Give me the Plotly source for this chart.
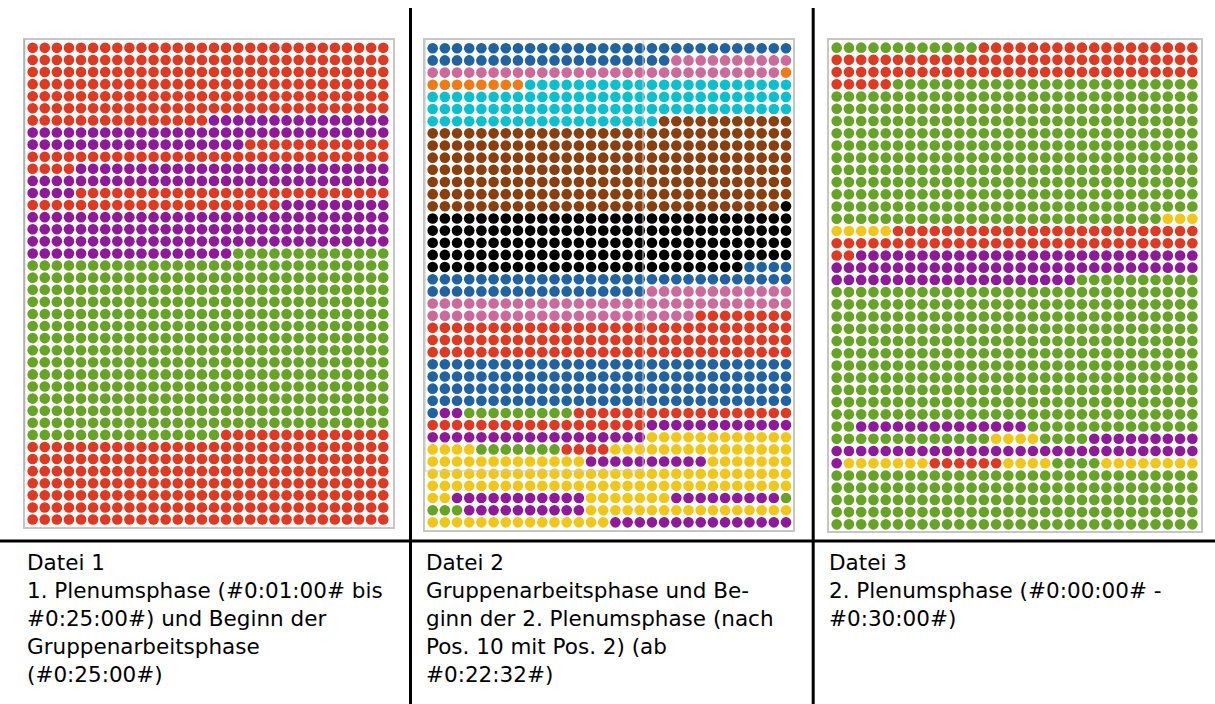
import plotly.graph_objects as go

W, H = 1215, 704

# colour codes used in the run-length rows
COLORS = {
    "R": "#de3a23",  # red
    "P": "#8f1a99",  # purple
    "G": "#66a326",  # green
    "B": "#2162a3",  # blue
    "K": "#cc6b9b",  # pink
    "O": "#ee7b18",  # orange
    "C": "#0cbfcf",  # cyan
    "N": "#8a3f11",  # brown
    "X": "#000000",  # black
    "Y": "#f1c61a",  # yellow
}

# each row: runs of (colour code, count); 30 dots per row, 40 rows per panel
panel1_rows = (
    [[("R", 30)]] * 6
    + [[("R", 15), ("P", 15)]]
    + [[("P", 30)]]
    + [[("P", 18), ("R", 12)]]
    + [[("R", 30)]]
    + [[("R", 4), ("P", 26)]]
    + [[("P", 30)]]
    + [[("P", 4), ("R", 26)]]
    + [[("R", 21), ("P", 9)]]
    + [[("P", 30)]] * 3
    + [[("P", 17), ("G", 13)]]
    + [[("G", 30)]] * 14
    + [[("G", 16), ("R", 14)]]
    + [[("R", 30)]] * 7
)

panel2_rows = (
    [[("B", 30)]]
    + [[("B", 20), ("K", 10)]]
    + [[("K", 29), ("O", 1)]]
    + [[("O", 8), ("C", 22)]]
    + [[("C", 30)]] * 2
    + [[("C", 19), ("N", 11)]]
    + [[("N", 30)]] * 6
    + [[("N", 29), ("X", 1)]]
    + [[("X", 30)]] * 4
    + [[("X", 26), ("B", 4)]]
    + [[("B", 30)]]
    + [[("B", 18), ("K", 12)]]
    + [[("K", 30)]]
    + [[("K", 22), ("R", 8)]]
    + [[("R", 30)]] * 3
    + [[("B", 30)]] * 4
    + [[("B", 1), ("P", 2), ("G", 9), ("R", 18)]]
    + [[("R", 18), ("P", 12)]]
    + [[("P", 18), ("Y", 12)]]
    + [[("Y", 4), ("G", 7), ("R", 4), ("Y", 15)]]
    + [[("Y", 13), ("P", 10), ("Y", 7)]]
    + [[("Y", 30)]] * 2
    + [[("Y", 2), ("P", 11), ("Y", 7), ("P", 9), ("G", 1)]]
    + [[("G", 3), ("P", 10), ("Y", 17)]]
    + [[("Y", 15), ("P", 15)]]
)

panel3_rows = (
    [[("G", 12), ("R", 18)]]
    + [[("R", 30)]] * 2
    + [[("R", 5), ("G", 25)]]
    + [[("G", 30)]] * 10
    + [[("G", 27), ("Y", 3)]]
    + [[("Y", 5), ("R", 25)]]
    + [[("R", 30)]]
    + [[("R", 2), ("P", 28)]]
    + [[("P", 30)]]
    + [[("P", 20), ("G", 10)]]
    + [[("G", 30)]] * 11
    + [[("G", 2), ("P", 14), ("G", 14)]]
    + [[("G", 13), ("Y", 4), ("G", 4), ("P", 9)]]
    + [[("P", 30)]]
    + [[("P", 1), ("Y", 7), ("R", 6), ("Y", 4), ("G", 4), ("Y", 8)]]
    + [[("G", 30)]] * 5
)

captions = [
    ["Datei 1", "1. Plenumsphase (#0:01:00# bis", "#0:25:00#) und Beginn der",
     "Gruppenarbeitsphase", "(#0:25:00#)"],
    ["Datei 2", "Gruppenarbeitsphase und Be-", "ginn der 2. Plenumsphase (nach",
     "Pos. 10 mit Pos. 2) (ab", "#0:22:32#)"],
    ["Datei 3", "2. Plenumsphase (#0:00:00# -", "#0:30:00#)"],
]

# ---- layout geometry (pixels) ----
frames = [  # x0, x1, y0, y1 of each picture frame
    (24.7, 392.7, 39.5, 526.8),
    (425.0, 793.3, 40.0, 530.0),
    (828.7, 1200.7, 39.7, 530.7),
]
xranges = [[-0.66, 29.78], [-0.63, 29.6], [-0.65, 29.68]]
yranges = [[39.6, -0.69], [39.63, -0.68], [39.52, -0.65]]
text_x = [26, 424.5, 828]


def px(x):
    return x / W


def py(y):
    return 1 - y / H


fig = go.Figure()

for i, rows in enumerate([panel1_rows, panel2_rows, panel3_rows]):
    pts = {}
    for r, runs in enumerate(rows):
        c = 0
        for code, n in runs:
            for _ in range(n):
                pts.setdefault(code, ([], []))
                pts[code][0].append(c)
                pts[code][1].append(r)
                c += 1
    sfx = "" if i == 0 else str(i + 1)
    for code, (xs, ys) in pts.items():
        fig.add_trace(go.Scatter(
            x=xs, y=ys, mode="markers",
            marker=dict(color=COLORS[code], size=10.6, line=dict(width=0)),
            xaxis="x" + sfx, yaxis="y" + sfx, showlegend=False, hoverinfo="skip",
        ))
    x0, x1, y0, y1 = frames[i]
    ax = dict(domain=[px(x0), px(x1)], range=xranges[i], showgrid=False,
              zeroline=False, showticklabels=False, ticks="", showline=True,
              mirror=True, linecolor="#c6c6c6", linewidth=1.5, fixedrange=True)
    ay = dict(domain=[py(y1), py(y0)], range=yranges[i], showgrid=False,
              zeroline=False, showticklabels=False, ticks="", showline=True,
              mirror=True, linecolor="#c6c6c6", linewidth=1.5, fixedrange=True)
    if i > 0:
        ax["anchor"] = "y" + sfx
        ay["anchor"] = "x" + sfx
    fig.layout["xaxis" + sfx] = ax
    fig.layout["yaxis" + sfx] = ay

shapes = []
# table rules
for xv in (410.5, 813.2):
    shapes.append(dict(type="line", xref="paper", yref="paper",
                       x0=px(xv), x1=px(xv), y0=py(8), y1=py(H + 2),
                       line=dict(color="black", width=3)))
shapes.append(dict(type="line", xref="paper", yref="paper",
                   x0=0, x1=1, y0=py(541), y1=py(541),
                   line=dict(color="black", width=3)))
# faint overlay outline inside the second picture
shapes.append(dict(type="rect", xref="paper", yref="paper",
                   x0=px(425), x1=px(643), y0=py(471), y1=py(39),
                   line=dict(color="#c8c8c8", width=1), layer="above"))
shapes.append(dict(type="line", xref="paper", yref="paper",
                   x0=px(24.5), x1=px(24.5), y0=py(471), y1=py(39.5),
                   line=dict(color="#b0b0b0", width=1.5)))

annotations = []
for i, lines in enumerate(captions):
    annotations.append(dict(
        text="<br>".join(lines), xref="paper", yref="paper", x=px(text_x[i]),
        y=py(549), xanchor="left", yanchor="top", align="left",
        showarrow=False, borderpad=0,
        font=dict(family="DejaVu Sans", size=21.5, color="black"),
    ))

fig.update_layout(
    width=W, height=H, margin=dict(l=0, r=0, t=0, b=0),
    paper_bgcolor="white", plot_bgcolor="white",
    shapes=shapes, annotations=annotations,
)

fig.write_html(
    "out.html",
    config={"displayModeBar": False},
    post_script="document.body.style.margin='0';document.body.style.padding='0';"
                "document.body.style.overflow='hidden';",
)
